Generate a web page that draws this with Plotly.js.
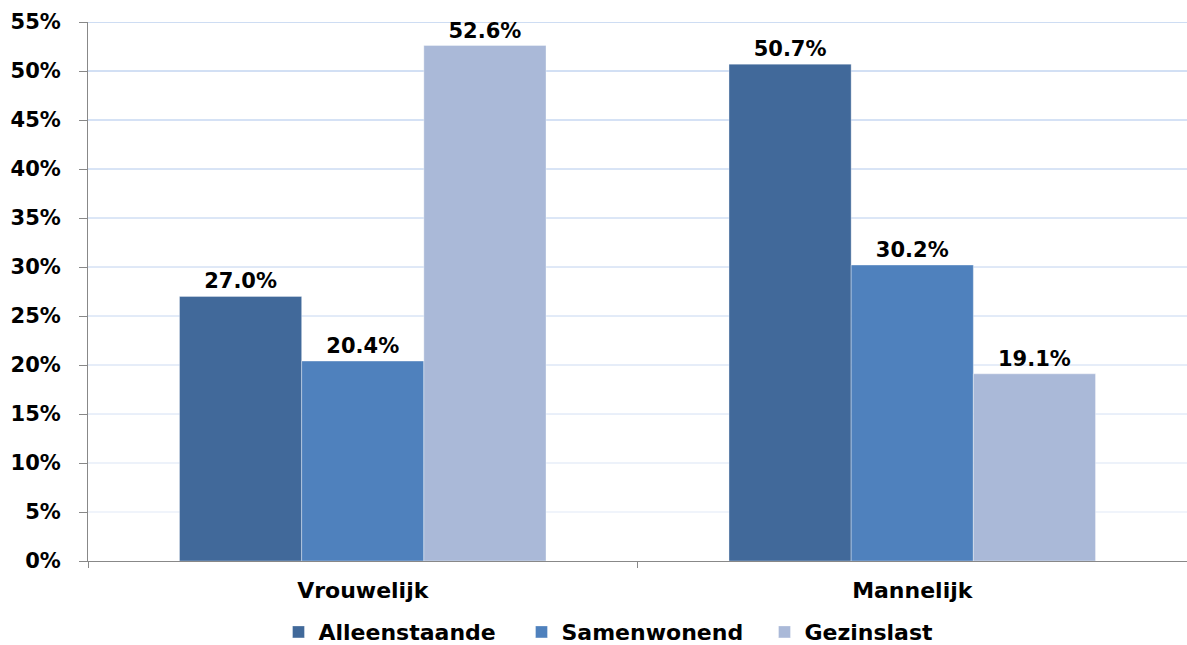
<!DOCTYPE html>
<html>
<head>
<meta charset="utf-8">
<script src="https://cdn.plot.ly/plotly-3.0.1.min.js"></script>
<style>html,body{margin:0;padding:0;background:#fff;}#chart{width:1187px;height:645px;}</style>
</head>
<body>
<div id="chart"></div>
<script>
const categories = ["Vrouwelijk", "Mannelijk"];
const seriesNames = ["Alleenstaande", "Samenwonend", "Gezinslast"];
const alleenstaande = [27.0, 50.7];
const samenwonend = [20.4, 30.2];
const gezinslast = [52.6, 19.1];
const seriesColors = ["#41699A", "#4F81BD", "#AAB9D8"];
const yTicks = [0, 5, 10, 15, 20, 25, 30, 35, 40, 45, 50, 55];

const font = "DejaVu Sans, Verdana, sans-serif";
const seriesValues = [alleenstaande, samenwonend, gezinslast];
const traces = seriesValues.map((vals, i) => ({
  type: "bar",
  name: seriesNames[i],
  x: categories,
  y: vals,
  text: vals.map(v => v.toFixed(1) + "%"),
  textposition: "outside",
  textfont: {family: font, size: 21, color: "#000", weight: "bold"},
  cliponaxis: false,
  marker: {color: seriesColors[i], line: {color: "rgba(255,255,255,0.35)", width: 1}},
  hoverinfo: "none"
}));

// gridlines fading from blue (top) to pale (bottom)
const shapes = yTicks.filter(t => t > 0).map(t => {
  const f = t / 55;
  const c0 = [232, 238, 248], c1 = [158, 187, 232];
  const c = c0.map((a, k) => Math.round(a + (c1[k] - a) * f));
  return {type: "line", xref: "paper", yref: "y", x0: 0, x1: 1, y0: t, y1: t,
          line: {color: `rgb(${c.join(",")})`, width: 1}, layer: "below"};
});

const layout = {
  width: 1187, height: 645,
  margin: {l: 88, r: 0, t: 22, b: 84, autoexpand: false},
  paper_bgcolor: "#fff", plot_bgcolor: "#fff",
  barmode: "group", bargap: 0.333, bargroupgap: 0,
  font: {family: font, color: "#000"},
  showlegend: true,
  legend: {orientation: "h", x: 0.505, xanchor: "center", yref: "container", y: 0.02, yanchor: "middle",
           entrywidth: 198, entrywidthmode: "pixels",
           font: {family: font, size: 22, color: "#000", weight: "bold"}, traceorder: "normal"},
  xaxis: {type: "category", range: [-0.5, 1.5], tickson: "boundaries", ticks: "outside", ticklen: 6,
          tickcolor: "#888", showline: true, linecolor: "#888", linewidth: 1, showgrid: false,
          ticklabelstandoff: 10,
          tickfont: {family: font, size: 22, color: "#000", weight: "bold"}, fixedrange: true},
  yaxis: {range: [0, 55], tickvals: yTicks, ticktext: yTicks.map(t => t + "%"), ticks: "outside", ticklen: 8,
          tickcolor: "#888", showline: true, linecolor: "#888", linewidth: 1, showgrid: false, zeroline: false,
          ticklabelstandoff: 14,
          tickfont: {family: font, size: 21, color: "#000", weight: "bold"}, fixedrange: true},
  shapes: shapes
};

Plotly.newPlot("chart", traces, layout, {displayModeBar: false, staticPlot: true});
</script>
</body>
</html>
